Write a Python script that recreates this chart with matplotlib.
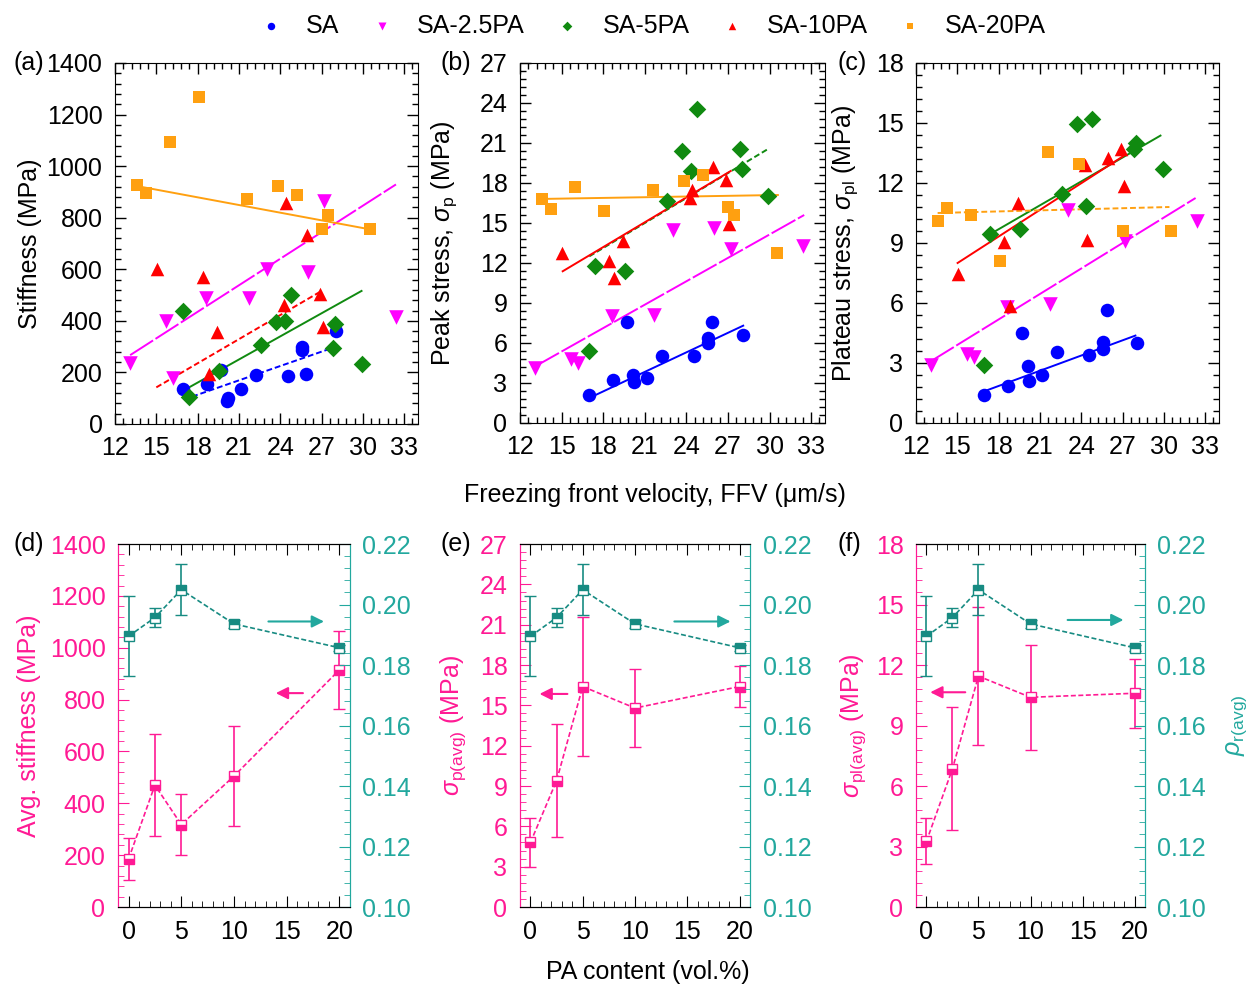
import matplotlib
matplotlib.use('Agg')
import matplotlib.pyplot as plt
import numpy as np
from matplotlib.ticker import MultipleLocator, AutoMinorLocator, FormatStrFormatter

plt.rcParams['font.family'] = ['Liberation Sans', 'DejaVu Sans']
plt.rcParams['mathtext.fontset'] = 'custom'
plt.rcParams['mathtext.rm'] = 'Liberation Sans'
plt.rcParams['mathtext.it'] = 'Liberation Sans:italic'

# ---- top row: property vs freezing front velocity ----
groups = ['SA', 'SA-2.5PA', 'SA-5PA', 'SA-10PA', 'SA-20PA']
colors = ['#0000ff', '#ff00ff', '#108a10', '#ff0000', '#ffa010']
markers = ['o', 'v', 'D', '^', 's']
msizes = [95, 110, 80, 95, 75]

ffv_sa = [16.95, 18.7, 19.7, 20.15, 20.2, 21.15, 22.25, 24.55, 25.55, 25.55, 25.85, 28.05]
ffv_25 = [13.1, 15.7, 16.2, 18.6, 21.7, 23.05, 26.0, 27.2, 32.4]
ffv_5 = [16.95, 17.38, 19.55, 22.6, 23.7, 24.35, 24.75, 27.85, 28.0, 29.9]
ffv_10 = [15.03, 18.4, 18.8, 19.4, 24.25, 24.4, 25.95, 26.85, 27.1]
ffv_20 = [13.6, 14.25, 15.97, 18.07, 21.6, 23.8, 25.2, 27.0, 27.45, 30.55]

stiff_sa = [135, 155, 209, 90, 99, 135, 190, 185, 299, 288, 194, 361]
stiff_25 = [235, 400, 177, 490, 490, 600, 590, 865, 415]
stiff_5 = [439, 103, 206, 307, 396, 400, 500, 294, 387, 232]
stiff_10 = [600, 570, 194, 357, 460, 858, 733, 506, 377]
stiff_20 = [925, 897, 1094, 1267, 874, 923, 890, 757, 809, 757]

peak_sa = [2.1, 3.25, 7.55, 3.6, 3.1, 3.4, 5.05, 5.05, 6.4, 6.0, 7.6, 6.6]
peak_25 = [4.12, 4.8, 4.5, 8.0, 8.1, 14.5, 14.6, 13.05, 13.3]
peak_5 = [5.38, 11.75, 11.38, 16.68, 20.38, 18.93, 23.58, 20.55, 19.08, 17.0]
peak_10 = [12.75, 12.13, 10.88, 13.63, 16.88, 17.45, 19.2, 18.25, 14.93]
peak_20 = [16.83, 16.05, 17.7, 15.93, 17.45, 18.13, 18.63, 16.2, 15.58, 12.75]

plat_sa = [1.42, 1.87, 4.5, 2.83, 2.08, 2.42, 3.53, 3.38, 3.72, 4.03, 5.67, 4.0]
plat_25 = [2.92, 3.47, 3.3, 5.8, 5.97, 10.67, np.nan, 9.08, 10.08]
plat_5 = [2.92, 9.47, 9.72, 11.47, 14.97, 10.83, 15.2, 13.7, 14.0, 12.72]
plat_10 = [7.47, 9.03, 5.83, 11.0, 12.92, 9.13, 13.25, 13.7, 11.83]
plat_20 = [10.12, 10.75, 10.38, 8.08, 13.55, 12.97, np.nan, 9.58, np.nan, 9.58]

# linear fit end points (x0, x1), (y0, y1)
fitx_a = [(17.0, 28.05), (13.1, 32.4), (17.38, 29.9), (15.0, 27.0), (13.57, 30.5)]
fity_a = [(95, 300), (267, 929), (142, 516), (142, 516), (923, 755)]
fitx_b = [(17.0, 28.1), (13.1, 32.5), (17.0, 29.97), (15.08, 27.2), (13.34, 30.6)]
fity_b = [(1.88, 7.3), (4.25, 15.6), (12.5, 20.6), (11.38, 18.9), (16.8, 17.1)]
fitx_c = [(16.93, 27.93), (13.06, 32.3), (17.1, 29.75), (15.02, 27.02), (13.57, 30.4)]
fity_c = [(1.58, 4.37), (3.08, 11.25), (9.33, 14.37), (8.0, 13.33), (10.5, 10.8)]

dash_s = (0, (3, 1.5))
dash_l = (0, (14, 1.5))
fitls_a = [dash_s, dash_l, '-', dash_s, '-']
fitls_b = ['-', dash_l, dash_s, '-', '-']
fitls_c = ['-', dash_l, '-', '-', dash_s]

# ---- bottom row: averages vs PA content ----
pa = [0, 2.5, 5, 10, 20]
stiff_avg = [185, 470, 318, 505, 915]
stiff_err = [80, 197, 117, 193, 150]
peak_avg = [4.8, 9.4, 16.4, 14.8, 16.4]
peak_err = [1.8, 4.2, 5.2, 2.9, 1.55]
plat_avg = [3.25, 6.85, 11.45, 10.4, 10.6]
plat_err = [1.14, 3.05, 3.43, 2.6, 1.7]
rho_avg = [0.1895, 0.1957, 0.2049, 0.1936, 0.1857]
rho_err = [0.0132, 0.0032, 0.0085, 0.0014, 0.001]

PINK = '#ff1a94'
TEAL = '#22a89e'
TEAL_D = '#178b82'
FS = 18
PAD = 9

fig = plt.figure(figsize=(12.5, 9.89), dpi=100)


def style_axes(ax):
    ax.tick_params(which='both', direction='in', top=True, right=True, labelsize=FS, pad=PAD)
    ax.tick_params(which='major', length=8, width=1)
    ax.tick_params(which='minor', length=4, width=1)
    ax.xaxis.set_minor_locator(AutoMinorLocator(5))
    ax.yaxis.set_minor_locator(AutoMinorLocator(5))


def scatter_panel(rect, ys, fitx, fity, fitls, ymax, ystep, ylabel, labx, tag, tagx):
    ax = fig.add_axes(rect)
    ffvs = [ffv_sa, ffv_25, ffv_5, ffv_10, ffv_20]
    for i in range(5):
        ax.plot(fitx[i], fity[i], color=colors[i], ls=fitls[i], lw=1.4, zorder=2)
    for i in range(5):
        ax.scatter(ffvs[i], ys[i], marker=markers[i], s=msizes[i], color=colors[i],
                   label=groups[i], zorder=3, linewidths=0)
    ax.set_xlim(12, 34)
    ax.set_ylim(0, ymax)
    ax.xaxis.set_major_locator(MultipleLocator(3))
    ax.yaxis.set_major_locator(MultipleLocator(ystep))
    style_axes(ax)
    ax.set_ylabel(ylabel, fontsize=FS)
    ax.yaxis.set_label_coords(labx, 0.5)
    fig.text(tagx, rect[1] + rect[3], tag, fontsize=FS, va='center', ha='left')
    return ax


ax_a = scatter_panel([0.092, 0.5713, 0.2424, 0.365], [stiff_sa, stiff_25, stiff_5, stiff_10, stiff_20],
                     fitx_a, fity_a, fitls_a, 1400, 200, 'Stiffness (MPa)', -0.24, '(a)', 0.011)
scatter_panel([0.416, 0.5723, 0.244, 0.364], [peak_sa, peak_25, peak_5, peak_10, peak_20],
              fitx_b, fity_b, fitls_b, 27, 3, r'Peak stress, $\sigma_{\mathrm{p}}$ (MPa)', -0.20, '(b)', 0.352)
scatter_panel([0.7328, 0.5723, 0.2424, 0.364], [plat_sa, plat_25, plat_5, plat_10, plat_20],
              fitx_c, fity_c, fitls_c, 18, 3, r'Plateau stress, $\sigma_{\mathrm{pl}}$ (MPa)', -0.185, '(c)', 0.670)

handles, labels = ax_a.get_legend_handles_labels()
fig.legend(handles, labels, loc='center', bbox_to_anchor=(0.522, 0.974), ncol=5, frameon=False,
           fontsize=FS, markerscale=0.55, handlelength=1.0, handletextpad=0.9, columnspacing=1.2)

fig.text(0.524, 0.4995, 'Freezing front velocity, FFV (μm/s)', fontsize=FS, ha='center', va='center')


def avg_panel(rect, yavg, yerr, ymax, ystep, ylabel, labx, tag, tagx, parrow, tarrow, rlabel=None):
    ax = fig.add_axes(rect)
    ax.errorbar(pa, yavg, yerr=yerr, color=PINK, ls=(0, (3, 1.5)), lw=1.2, marker='s', ms=7,
                fillstyle='bottom', markerfacecoloralt='white', mec=PINK, mfc=PINK,
                capsize=4, elinewidth=1.2, zorder=3)
    ax.set_xlim(-1, 21)
    ax.set_ylim(0, ymax)
    ax.xaxis.set_major_locator(MultipleLocator(5))
    ax.yaxis.set_major_locator(MultipleLocator(ystep))
    ax.tick_params(which='both', direction='in', top=True, right=False, labelsize=FS, pad=PAD)
    ax.tick_params(which='major', length=8)
    ax.tick_params(which='minor', length=4)
    ax.tick_params(axis='y', which='both', colors=PINK)
    ax.xaxis.set_minor_locator(AutoMinorLocator(5))
    ax.yaxis.set_minor_locator(AutoMinorLocator(5))
    ax.spines['left'].set_color(PINK)
    ax.spines['right'].set_color(TEAL)
    ax.set_ylabel(ylabel, fontsize=FS, color=PINK)
    ax.yaxis.set_label_coords(labx, 0.5)
    ax.annotate('', xy=parrow[1], xytext=parrow[0],
                arrowprops=dict(arrowstyle='-|>', color=PINK, lw=1.5, mutation_scale=18))

    ax2 = ax.twinx()
    ax2.errorbar(pa, rho_avg, yerr=rho_err, color=TEAL_D, ls=(0, (3, 1.5)), lw=1.2, marker='s', ms=7,
                 fillstyle='top', markerfacecoloralt='white', mec=TEAL_D, mfc=TEAL_D,
                 capsize=4, elinewidth=1.2, zorder=3)
    ax2.set_ylim(0.10, 0.22)
    ax2.yaxis.set_major_locator(MultipleLocator(0.02))
    ax2.yaxis.set_minor_locator(AutoMinorLocator(5))
    ax2.tick_params(which='both', direction='in', labelsize=FS, colors=TEAL, pad=PAD)
    ax2.tick_params(which='major', length=8)
    ax2.tick_params(which='minor', length=4)
    ax2.yaxis.set_major_formatter(FormatStrFormatter('%.2f'))
    ax2.spines['right'].set_color(TEAL)
    ax2.spines['left'].set_color(PINK)
    ax2.annotate('', xy=tarrow[1], xytext=tarrow[0],
                 arrowprops=dict(arrowstyle='-|>', color=TEAL, lw=1.5, mutation_scale=18))
    if rlabel:
        ax2.set_ylabel(rlabel, fontsize=FS, color=TEAL)
        ax2.yaxis.set_label_coords(1.345, 0.5)
    fig.text(tagx, rect[1] + rect[3], tag, fontsize=FS, va='center', ha='left')
    return ax


avg_panel([0.0944, 0.0829, 0.1856, 0.367], stiff_avg, stiff_err, 1400, 200, 'Avg. stiffness (MPa)',
          -0.33, '(d)', 0.011, ((16.8, 825), (13.7, 825)), ((13.0, 0.1944), (18.8, 0.1944)))
avg_panel([0.416, 0.0829, 0.184, 0.367], peak_avg, peak_err, 27, 3, r'$\sigma_{\mathrm{p(avg)}}$ (MPa)',
          -0.225, '(e)', 0.352, ((3.8, 15.85), (0.6, 15.85)), ((13.5, 0.1944), (19.4, 0.1944)))
avg_panel([0.7328, 0.0829, 0.1832, 0.367], plat_avg, plat_err, 18, 3, r'$\sigma_{\mathrm{pl(avg)}}$ (MPa)',
          -0.21, '(f)', 0.670, ((4.0, 10.65), (0.1, 10.65)), ((13.3, 0.1949), (19.2, 0.1949)),
          rlabel=r'$\rho_{\mathrm{r(avg)}}$')

fig.text(0.518, 0.017, 'PA content (vol.%)', fontsize=FS, ha='center', va='center')

fig.savefig('out.png', dpi=100)
